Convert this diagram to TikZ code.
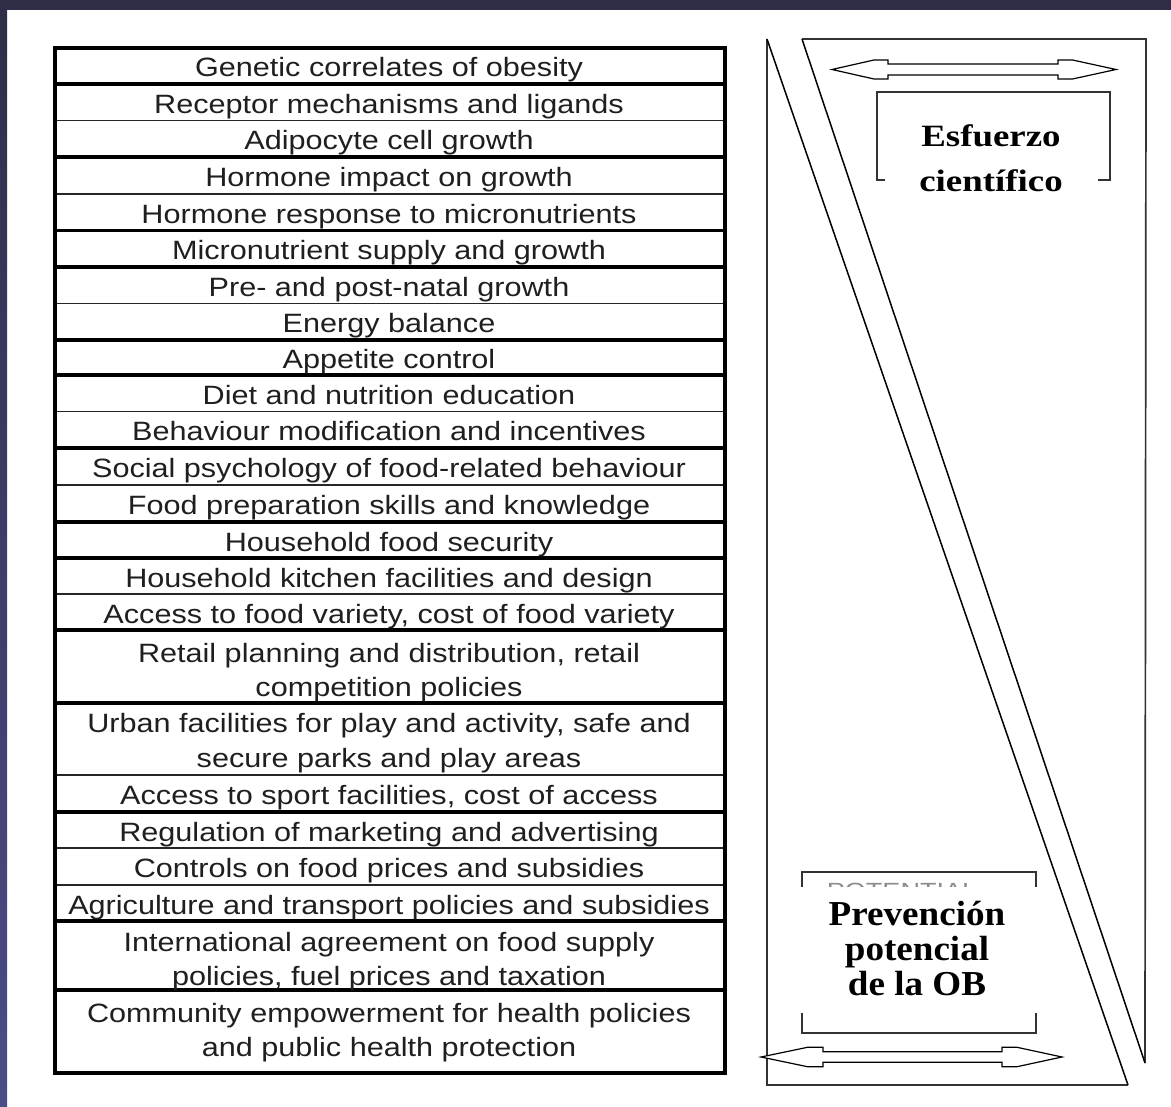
\documentclass[tikz,border=0pt]{standalone}
\usepackage{fontspec}
\newfontfamily\tabfont[FakeStretch=1.155]{Liberation Sans}
\newfontfamily\esffont[FakeStretch=1.19]{Liberation Serif}
\newfontfamily\prvfont[FakeStretch=1.06]{Liberation Serif}
\newfontfamily\potfont[FakeStretch=1.23]{Liberation Sans}
\newcommand\tabsetup{\tabfont\fontsize{26.5pt}{34.5pt}\selectfont\lineskiplimit=-100pt\relax}
\newcommand\esfsetup{\esffont\bfseries\fontsize{31pt}{45pt}\selectfont\lineskiplimit=-100pt\relax}
\newcommand\prvsetup{\prvfont\bfseries\fontsize{35pt}{35pt}\selectfont\lineskiplimit=-100pt\relax}
\newcommand\potsetup{\potfont\fontsize{22pt}{26pt}\selectfont}
\newcommand\tstrut{\rule[-24pt]{0pt}{48pt}}
\definecolor{bandtop}{HTML}{2E2E48}
\definecolor{bandbot}{HTML}{4C4C88}
\newcommand\hollowdbl[7]{%
  \filldraw[arrowline] (#1,#3) -- ({#1+0.45*#4},{#3-0.6*#6}) -- ({#1+0.75*#4},{#3-#6}) -- ({#1+#4},{#3-#6})
   -- ({#1+#4},{#3-#7}) -- ({#2-#5},{#3-#7}) -- ({#2-#5},{#3-#6}) -- ({#2-0.75*#5},{#3-#6})
   -- ({#2-0.45*#5},{#3-0.6*#6}) -- (#2,#3) -- ({#2-0.45*#5},{#3+0.6*#6}) -- ({#2-0.75*#5},{#3+#6})
   -- ({#2-#5},{#3+#6}) -- ({#2-#5},{#3+#7}) -- ({#1+#4},{#3+#7}) -- ({#1+#4},{#3+#6})
   -- ({#1+0.75*#4},{#3+#6}) -- ({#1+0.45*#4},{#3+0.6*#6}) -- cycle;}
\begin{document}
\begin{tikzpicture}[x=1pt,y=-1pt,
  thickrule/.style={line width=3.8pt, black},
  thinrule/.style={line width=1.8pt, black!85},
  rowtext/.style={inner sep=0pt, align=center, text=black!88, font=\tabsetup},
  panelline/.style={line width=1.7pt, black!80},
  diagline/.style={line width=1.5pt, black},
  arrowline/.style={line width=1.2pt, draw=black, fill=white, line join=miter},
  labelbox/.style={inner sep=0pt, align=center, fill=white, text=black}]
\useasboundingbox (0,0) rectangle (1171,1107);
\fill[white] (0,0) rectangle (1171,1107);
\shade[top color=bandtop, bottom color=bandbot] (0,0) rectangle (7,1107);
\fill[bandtop] (0,0) rectangle (1171,10);
% table rules
\foreach \yy in {120.5,194,303.5,411.5,485,594,775,848,885}
  \draw[thinrule] (55,\yy) -- (725,\yy);
\foreach \yy in {84,157,230.5,267,340,375,448,522,558,630,703,812,921,990}
  \draw[thickrule] (55,\yy) -- (725,\yy);
\draw[thickrule] (55,48) rectangle (725,1073);
% table texts
\node[rowtext] (r1) at (389,77) {Genetic correlates of obesity\tstrut};
\node[rowtext] (r2) at (389,113.25) {Receptor mechanisms and ligands\tstrut};
\node[rowtext] (r3) at (389,149.75) {Adipocyte cell growth\tstrut};
\node[rowtext] (r4) at (389,186.5) {Hormone impact on growth\tstrut};
\node[rowtext] (r5) at (389,223.25) {Hormone response to micronutrients\tstrut};
\node[rowtext] (r6) at (389,259.75) {Micronutrient supply and growth\tstrut};
\node[rowtext] (r7) at (389,296.25) {Pre- and post-natal growth\tstrut};
\node[rowtext] (r8) at (389,332.75) {Energy balance\tstrut};
\node[rowtext] (r9) at (389,368.5) {Appetite control\tstrut};
\node[rowtext] (r10) at (389,404.25) {Diet and nutrition education\tstrut};
\node[rowtext] (r11) at (389,440.75) {Behaviour modification and incentives\tstrut};
\node[rowtext] (r12) at (389,477.5) {Social psychology of food-related behaviour\tstrut};
\node[rowtext] (r13) at (389,514.5) {Food preparation skills and knowledge\tstrut};
\node[rowtext] (r14) at (389,551) {Household food security\tstrut};
\node[rowtext] (r15) at (389,587) {Household kitchen facilities and design\tstrut};
\node[rowtext] (r16) at (389,623) {Access to food variety, cost of food variety\tstrut};
\node[rowtext] (r17) at (389,679.5) {Retail planning and distribution, retail\tstrut\\competition policies\tstrut};
\node[rowtext] (r18) at (389,750) {Urban facilities for play and activity, safe and\tstrut\\secure parks and play areas\tstrut};
\node[rowtext] (r19) at (389,804.5) {Access to sport facilities, cost of access\tstrut};
\node[rowtext] (r20) at (389,841) {Regulation of marketing and advertising\tstrut};
\node[rowtext] (r21) at (389,877.5) {Controls on food prices and subsidies\tstrut};
\node[rowtext] (r22) at (389,914) {Agriculture and transport policies and subsidies\tstrut};
\node[rowtext] (r23) at (389,968.5) {International agreement on food supply\tstrut\\policies, fuel prices and taxation\tstrut};
\node[rowtext] (r24) at (389,1039.5) {Community empowerment for health policies\tstrut\\and public health protection\tstrut};
% right panel triangles
\draw[panelline] (802,39) -- (1146,39) -- (1145,1063);
\draw[diagline] (802,39) -- (1145,1063);
\draw[panelline] (767,39) -- (767,1085) -- (1128,1085);
\draw[diagline] (767,39) -- (1128,1085);
% label boxes
\draw[panelline] (877,92) rectangle (1110,180);
\draw[panelline] (802,872) rectangle (1036,1033);
\node[anchor=base, inner sep=0pt, text=black!45, font=\potsetup] (pot) at (902,898.5) {POTENTIAL};
\node[labelbox, font=\esfsetup, minimum width=213pt] (esf) at (991,169.5) {Esfuerzo\tstrut\\científico\tstrut};
\node[labelbox, font=\prvsetup, minimum width=242pt] (prev) at (917,950) {\rule{0pt}{38pt}Prevención\\potencial\\de la OB\rule[-18pt]{0pt}{18pt}};
% double arrows
\hollowdbl{832}{1116}{69.5}{56}{58}{9.5}{5.5}
\hollowdbl{761}{1062}{1057}{62}{60}{9.7}{5.3}
\end{tikzpicture}
\end{document}
